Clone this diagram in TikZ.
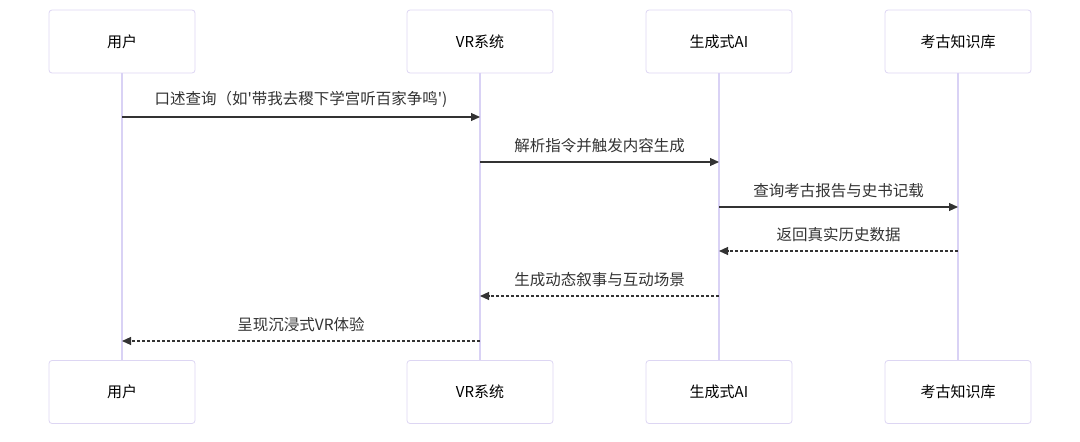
\documentclass[tikz,border=0pt]{standalone}
\usepackage{fontspec}
\setmainfont{Noto Sans CJK SC}
\usetikzlibrary{arrows.meta}
\definecolor{boxline}{HTML}{DDD6F3}
\definecolor{lifeline}{HTML}{D9D2F5}
\definecolor{msg}{HTML}{333333}
\begin{document}
\begin{tikzpicture}[x=1pt,y=-1pt,
  actor/.style={draw=boxline,line width=0.8pt,fill=white,rounded corners=3pt,minimum width=146pt,minimum height=63pt,font=\fontsize{15}{17}\selectfont,inner sep=0pt},
  life/.style={draw=lifeline,line width=1.2pt},
  msgline/.style={draw=msg,line width=1.1pt,-{Triangle[length=9pt,width=8pt]}},
  reply/.style={msgline,dashed,dash pattern=on 3pt off 2pt},
  lbl/.style={font=\fontsize{15.5}{17}\selectfont,text=msg,inner sep=0pt}]
\useasboundingbox (0,0) rectangle (1080,442);
\foreach \n/\x/\t in {u/122/用户,v/480/VR系统,g/719/生成式AI,k/958/考古知识库}{
  \node[actor] (\n t) at (\x,41.5) {\t};
  \node[actor] (\n b) at (\x,392) {\t};
  \draw[life] (\n t.south) -- (\n b.north);
  \foreach \y/\m in {117/1,162/2,207/3,251/4,296/5,341/6}{
    \coordinate (\n\m) at (\x,\y);
  }
}
\draw[msgline] (u1) -- (v1) node[lbl,midway,above=9pt] (l1) {口述查询（如\textquotesingle 带我去稷下学宫听百家争鸣\textquotesingle)};
\draw[msgline] (v2) -- (g2) node[lbl,midway,above=9pt] (l2) {解析指令并触发内容生成};
\draw[msgline] (g3) -- (k3) node[lbl,midway,above=9pt] (l3) {查询考古报告与史书记载};
\draw[reply] (k4) -- (g4) node[lbl,midway,above=9pt] (l4) {返回真实历史数据};
\draw[reply] (g5) -- (v5) node[lbl,midway,above=9pt] (l5) {生成动态叙事与互动场景};
\draw[reply] (v6) -- (u6) node[lbl,midway,above=9pt] (l6) {呈现沉浸式VR体验};
\end{tikzpicture}
\end{document}
